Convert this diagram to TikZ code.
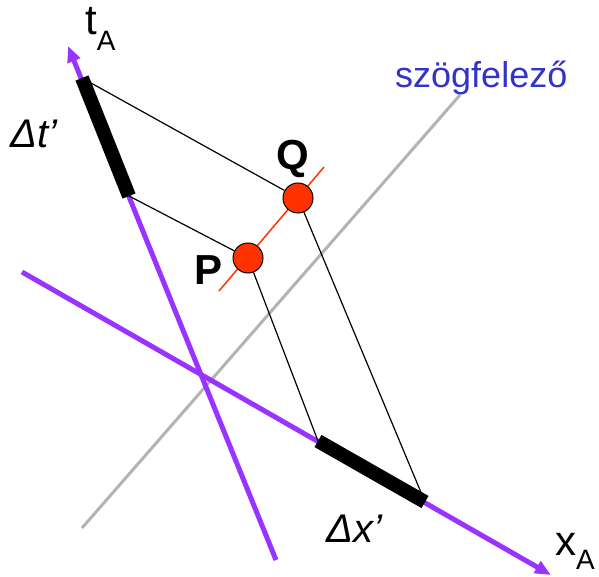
\documentclass[tikz,border=0pt]{standalone}
\usepackage{fontspec}
\setmainfont{Liberation Sans}
\usetikzlibrary{arrows.meta}
\definecolor{axispurple}{HTML}{9933FF}
\definecolor{bisgray}{HTML}{B3B3B3}
\definecolor{evred}{HTML}{FF3300}
\definecolor{labelblue}{HTML}{3333CC}
\begin{document}
\begin{tikzpicture}[x=1pt, y=-1pt,
  axis/.style={draw=axispurple, line width=5pt, -{Triangle[length=16pt,width=13pt]}},
  interval/.style={draw=black, line width=14pt},
  proj/.style={draw=black, line width=1.2pt},
  event/.style={circle, draw=black, fill=evred, line width=1pt, minimum size=30pt, inner sep=0pt},
  lbl/.style={anchor=base west, inner sep=0pt}]
\useasboundingbox (0,0) rectangle (599,577);
% axes and the bisector
\coordinate (tS) at (276,560);
\coordinate (tE) at (68,46);
\coordinate (xS) at (22,272);
\coordinate (xE) at (551,575);
\coordinate (bS) at (82,528);
\coordinate (bE) at (460,95);
\draw[bisgray, line width=3pt] (bS) -- (bE);
\draw[axis] (tS) -- (tE);
\draw[axis] (xS) -- (xE);
% simultaneity line of P and Q
\coordinate (rS) at (219,291);
\coordinate (rE) at (324,167);
\draw[evred, line width=1.5pt] (rS) -- (rE);
% end points of the intervals
\coordinate (t1) at (82,78);
\coordinate (t2) at (129,196);
\coordinate (x1) at (318,441);
\coordinate (x2) at (425,502);
\node[event] (Q) at (298,198) {};
\node[event] (P) at (248,258) {};
\draw[proj] (t1) -- (Q);
\draw[proj] (t2) -- (P);
\draw[proj] (P) -- (x1);
\draw[proj] (Q) -- (x2);
\draw[interval] (t1) -- (t2);
\draw[interval] (x1) -- (x2);
% labels
\node[lbl, font=\fontsize{42}{46}\selectfont] (tlbl) at (85,35)
  {t\raisebox{-16pt}{\fontsize{28}{30}\selectfont A}};
\node[lbl, font=\fontsize{42}{46}\selectfont] (xlbl) at (555,555)
  {x\raisebox{-14pt}{\fontsize{28}{30}\selectfont A}};
\node[lbl, text=labelblue, font=\fontsize{36}{40}\selectfont] (blbl) at (395,88) {szögfelező};
\node[lbl, font=\itshape\fontsize{40}{44}\selectfont] (dtlbl) at (10,148) {Δt’};
\node[lbl, font=\itshape\fontsize{40}{44}\selectfont] (dxlbl) at (326,542) {Δx’};
\node[lbl, font=\bfseries\fontsize{42}{46}\selectfont] (Qlbl) at (276,170) {Q};
\node[lbl, font=\bfseries\fontsize{42}{46}\selectfont] (Plbl) at (194,284) {P};
\end{tikzpicture}
\end{document}
